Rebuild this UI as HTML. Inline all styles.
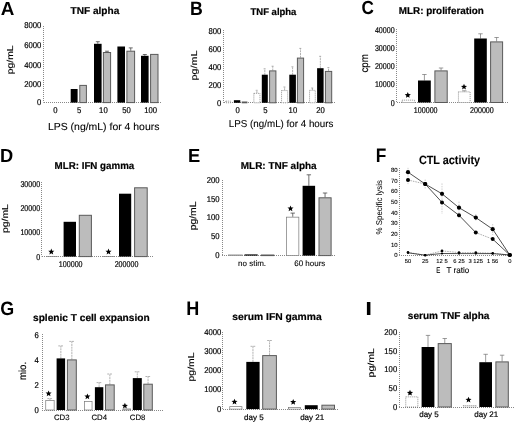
<!DOCTYPE html>
<html><head><meta charset="utf-8"><style>
html,body{margin:0;padding:0;background:#fff;}
svg{display:block;will-change:transform;}
text{font-family:"Liberation Sans", sans-serif;text-rendering:geometricPrecision;}
.ax{stroke:#888;stroke-width:1;stroke-dasharray:1 1;fill:none;}
.eb{stroke:#333;stroke-width:0.7;fill:none;}
.eb2{stroke:#999;stroke-width:0.75;fill:none;stroke-dasharray:2 0.7;}
.eb4{stroke:#bbb;stroke-width:0.7;fill:none;stroke-dasharray:1.5 1;}
.eb3{stroke:#707070;stroke-width:0.7;fill:none;}
.bk{fill:#000;}
.bg{fill:#bcbcbc;stroke:#5a5a5a;stroke-width:1;}
.bw{fill:#fff;stroke:#777;stroke-width:0.7;}
.bwd{fill:#fff;stroke:#666;stroke-width:0.7;stroke-dasharray:1 1;}
.ln{stroke:#222;stroke-width:0.8;fill:none;}
.ln2{stroke:#777;stroke-width:0.7;fill:none;}
.lnd{stroke:#888;stroke-width:0.7;fill:none;stroke-dasharray:1.5 1;}
</style></head><body>
<svg width="520" height="423" viewBox="0 0 520 423">
<text transform="translate(0.83,14.50) scale(0.998,1)" font-size="18.90" font-weight="bold">A</text>
<text x="70.54" y="14.40" font-size="10" font-weight="bold" textLength="48.75" lengthAdjust="spacingAndGlyphs" fill="#000" stroke="#000" stroke-width="0.2">TNF alpha</text>
<line x1="43.5" y1="26" x2="43.5" y2="102.6" class="ax"/>
<line x1="44" y1="102.5" x2="161" y2="102.5" class="ax"/>
<text transform="translate(41.30,28.24) scale(0.92,1)" font-size="8.4" text-anchor="end" stroke="#000" stroke-width="0.2">8000</text>
<text transform="translate(41.30,47.94) scale(0.92,1)" font-size="8.4" text-anchor="end" stroke="#000" stroke-width="0.2">6000</text>
<text transform="translate(41.30,67.54) scale(0.92,1)" font-size="8.4" text-anchor="end" stroke="#000" stroke-width="0.2">4000</text>
<text transform="translate(41.30,86.54) scale(0.92,1)" font-size="8.4" text-anchor="end" stroke="#000" stroke-width="0.2">2000</text>
<text transform="translate(41.30,105.34) scale(0.92,1)" font-size="8.4" text-anchor="end" stroke="#000" stroke-width="0.2">0</text>
<text transform="translate(13.43,74.22) rotate(-90) scale(0.956,0.8)" font-size="10.8" stroke="#000" stroke-width="0.18">pg/mL</text>
<rect x="70.70" y="89.00" width="6.90" height="13.60" class="bk"/>
<rect x="79.80" y="85.40" width="6.60" height="17.20" class="bg"/>
<line x1="97.80" y1="43.80" x2="97.80" y2="41.70" class="eb"/>
<line x1="95.80" y1="41.70" x2="99.80" y2="41.70" class="eb"/>
<rect x="94.00" y="43.80" width="7.60" height="58.80" class="bk"/>
<line x1="107.00" y1="52.10" x2="107.00" y2="51.20" class="eb"/>
<line x1="105.00" y1="51.20" x2="109.00" y2="51.20" class="eb"/>
<rect x="103.40" y="52.50" width="7.20" height="50.10" class="bg"/>
<rect x="117.40" y="46.50" width="7.60" height="56.10" class="bk"/>
<line x1="130.75" y1="50.80" x2="130.75" y2="47.90" class="eb"/>
<line x1="128.75" y1="47.90" x2="132.75" y2="47.90" class="eb"/>
<rect x="126.90" y="51.20" width="7.70" height="51.40" class="bg"/>
<line x1="144.80" y1="55.80" x2="144.80" y2="54.50" class="eb"/>
<line x1="142.80" y1="54.50" x2="146.80" y2="54.50" class="eb"/>
<rect x="141.00" y="55.80" width="7.60" height="46.80" class="bk"/>
<rect x="150.60" y="54.40" width="7.40" height="48.20" class="bg"/>
<text transform="translate(55.35,113.49) scale(0.92,1)" font-size="8.4" text-anchor="middle" stroke="#000" stroke-width="0.2">0</text>
<text transform="translate(79.25,113.49) scale(0.92,1)" font-size="8.4" text-anchor="middle" stroke="#000" stroke-width="0.2">5</text>
<text transform="translate(103.40,113.49) scale(0.92,1)" font-size="8.4" text-anchor="middle" stroke="#000" stroke-width="0.2">10</text>
<text transform="translate(126.60,113.49) scale(0.92,1)" font-size="8.4" text-anchor="middle" stroke="#000" stroke-width="0.2">50</text>
<text transform="translate(150.60,113.49) scale(0.92,1)" font-size="8.4" text-anchor="middle" stroke="#000" stroke-width="0.2">100</text>
<text x="47.99" y="129.90" font-size="10.2" textLength="111.43" lengthAdjust="spacingAndGlyphs" fill="#000" stroke="#000" stroke-width="0.1">LPS (ng/mL) for 4 hours</text>
<text transform="translate(189.92,14.55) scale(0.916,1)" font-size="19.33" font-weight="bold">B</text>
<text x="250.54" y="15.20" font-size="9.8" font-weight="bold" textLength="45.85" lengthAdjust="spacingAndGlyphs" fill="#000" stroke="#000" stroke-width="0.2">TNF alpha</text>
<line x1="223.5" y1="30" x2="223.5" y2="102.8" class="ax"/>
<line x1="224" y1="102.5" x2="335" y2="102.5" class="ax"/>
<text transform="translate(221.40,33.84) scale(0.92,1)" font-size="8.4" text-anchor="end" stroke="#000" stroke-width="0.2">800</text>
<text transform="translate(221.40,51.84) scale(0.92,1)" font-size="8.4" text-anchor="end" stroke="#000" stroke-width="0.2">600</text>
<text transform="translate(221.40,69.74) scale(0.92,1)" font-size="8.4" text-anchor="end" stroke="#000" stroke-width="0.2">400</text>
<text transform="translate(221.40,87.74) scale(0.92,1)" font-size="8.4" text-anchor="end" stroke="#000" stroke-width="0.2">200</text>
<text transform="translate(221.40,105.84) scale(0.92,1)" font-size="8.4" text-anchor="end" stroke="#000" stroke-width="0.2">0</text>
<text transform="translate(197.23,80.44) rotate(-90) scale(0.998,0.8)" font-size="10.8" stroke="#000" stroke-width="0.18">pg/mL</text>
<rect x="225.85" y="101.15" width="4.80" height="1.65" class="bwd"/>
<rect x="233.90" y="100.20" width="6.40" height="2.60" class="bk"/>
<rect x="242.20" y="102.00" width="4.70" height="0.80" class="bg"/>
<line x1="256.90" y1="93.00" x2="256.90" y2="90.30" class="eb2"/>
<line x1="255.70" y1="90.30" x2="258.10" y2="90.30" class="eb2"/>
<rect x="253.85" y="93.35" width="6.10" height="9.45" class="bwd"/>
<line x1="264.80" y1="74.70" x2="264.80" y2="68.80" class="eb2"/>
<line x1="263.60" y1="68.80" x2="266.00" y2="68.80" class="eb2"/>
<rect x="261.80" y="74.70" width="6.00" height="28.10" class="bk"/>
<line x1="272.75" y1="70.50" x2="272.75" y2="66.20" class="eb2"/>
<line x1="271.55" y1="66.20" x2="273.95" y2="66.20" class="eb2"/>
<rect x="269.60" y="70.90" width="6.30" height="31.90" class="bg"/>
<line x1="284.60" y1="90.20" x2="284.60" y2="87.00" class="eb2"/>
<line x1="283.40" y1="87.00" x2="285.80" y2="87.00" class="eb2"/>
<rect x="281.55" y="90.55" width="6.10" height="12.25" class="bwd"/>
<line x1="292.60" y1="74.70" x2="292.60" y2="66.80" class="eb2"/>
<line x1="291.40" y1="66.80" x2="293.80" y2="66.80" class="eb2"/>
<rect x="289.30" y="74.70" width="6.60" height="28.10" class="bk"/>
<line x1="300.50" y1="57.70" x2="300.50" y2="48.40" class="eb2"/>
<line x1="299.30" y1="48.40" x2="301.70" y2="48.40" class="eb2"/>
<rect x="297.40" y="58.10" width="6.20" height="44.70" class="bg"/>
<line x1="312.40" y1="90.00" x2="312.40" y2="88.00" class="eb2"/>
<line x1="311.20" y1="88.00" x2="313.60" y2="88.00" class="eb2"/>
<rect x="309.55" y="90.35" width="5.70" height="12.45" class="bwd"/>
<line x1="320.35" y1="68.20" x2="320.35" y2="56.30" class="eb2"/>
<line x1="319.15" y1="56.30" x2="321.55" y2="56.30" class="eb2"/>
<rect x="317.10" y="68.20" width="6.50" height="34.60" class="bk"/>
<line x1="328.55" y1="71.00" x2="328.55" y2="67.60" class="eb2"/>
<line x1="327.35" y1="67.60" x2="329.75" y2="67.60" class="eb2"/>
<rect x="325.40" y="71.40" width="6.30" height="31.40" class="bg"/>
<text transform="translate(237.60,113.24) scale(0.92,1)" font-size="8.4" text-anchor="middle" stroke="#000" stroke-width="0.2">0</text>
<text transform="translate(265.30,113.24) scale(0.92,1)" font-size="8.4" text-anchor="middle" stroke="#000" stroke-width="0.2">5</text>
<text transform="translate(292.90,113.24) scale(0.92,1)" font-size="8.4" text-anchor="middle" stroke="#000" stroke-width="0.2">10</text>
<text transform="translate(320.50,113.24) scale(0.92,1)" font-size="8.4" text-anchor="middle" stroke="#000" stroke-width="0.2">20</text>
<text x="228.85" y="127.00" font-size="10" textLength="104.56" lengthAdjust="spacingAndGlyphs" fill="#000" stroke="#000" stroke-width="0.1">LPS (ng/mL) for 4 hours</text>
<text transform="translate(361.49,14.45) scale(0.903,1)" font-size="19.05" font-weight="bold">C</text>
<text x="398.79" y="13.90" font-size="10" font-weight="bold" textLength="85.07" lengthAdjust="spacingAndGlyphs" fill="#000" stroke="#000" stroke-width="0.2">MLR: proliferation</text>
<line x1="396.5" y1="29" x2="396.5" y2="102.5" class="ax"/>
<line x1="397" y1="102.5" x2="509" y2="102.5" class="ax"/>
<text transform="translate(394.70,32.64) scale(0.85,1)" font-size="8.4" text-anchor="end" stroke="#000" stroke-width="0.2">40000</text>
<text transform="translate(394.70,50.94) scale(0.85,1)" font-size="8.4" text-anchor="end" stroke="#000" stroke-width="0.2">30000</text>
<text transform="translate(394.70,68.84) scale(0.85,1)" font-size="8.4" text-anchor="end" stroke="#000" stroke-width="0.2">20000</text>
<text transform="translate(394.70,86.94) scale(0.85,1)" font-size="8.4" text-anchor="end" stroke="#000" stroke-width="0.2">10000</text>
<text transform="translate(394.70,105.94) scale(0.85,1)" font-size="8.4" text-anchor="end" stroke="#000" stroke-width="0.2">0</text>
<text transform="translate(367.74,72.57) rotate(-90) scale(0.931,1.0)" font-size="10.5" stroke="#000" stroke-width="0.18">cpm</text>
<rect x="402.15" y="100.15" width="12.40" height="2.35" class="bwd"/>
<polygon points="407.80,92.00 408.65,94.04 410.84,94.21 409.17,95.64 409.68,97.79 407.80,96.64 405.92,97.79 406.43,95.64 404.76,94.21 406.95,94.04" fill="#000"/>
<line x1="424.40" y1="80.50" x2="424.40" y2="74.50" class="eb3"/>
<line x1="422.20" y1="74.50" x2="426.60" y2="74.50" class="eb3"/>
<rect x="418.00" y="80.50" width="12.80" height="22.00" class="bk"/>
<line x1="441.05" y1="70.50" x2="441.05" y2="68.00" class="eb3"/>
<line x1="438.85" y1="68.00" x2="443.25" y2="68.00" class="eb3"/>
<rect x="434.90" y="70.90" width="12.30" height="31.60" class="bg"/>
<line x1="464.30" y1="91.50" x2="464.30" y2="90.80" class="eb3"/>
<line x1="462.10" y1="90.80" x2="466.50" y2="90.80" class="eb3"/>
<rect x="458.45" y="91.85" width="11.70" height="10.65" class="bwd"/>
<polygon points="464.00,83.70 464.85,85.74 467.04,85.91 465.37,87.34 465.88,89.49 464.00,88.34 462.12,89.49 462.63,87.34 460.96,85.91 463.15,85.74" fill="#000"/>
<line x1="480.50" y1="38.50" x2="480.50" y2="33.80" class="eb3"/>
<line x1="478.30" y1="33.80" x2="482.70" y2="33.80" class="eb3"/>
<rect x="474.20" y="38.50" width="12.60" height="64.00" class="bk"/>
<line x1="496.60" y1="41.50" x2="496.60" y2="37.50" class="eb3"/>
<line x1="494.40" y1="37.50" x2="498.80" y2="37.50" class="eb3"/>
<rect x="490.60" y="41.90" width="12.00" height="60.60" class="bg"/>
<text transform="translate(425.70,113.14) scale(0.85,1)" font-size="8.4" text-anchor="middle" stroke="#000" stroke-width="0.2">100000</text>
<text transform="translate(481.90,113.14) scale(0.85,1)" font-size="8.4" text-anchor="middle" stroke="#000" stroke-width="0.2">200000</text>
<text transform="translate(-0.02,162.15) scale(0.959,1)" font-size="19.04" font-weight="bold">D</text>
<text x="54.60" y="169.20" font-size="10" font-weight="bold" textLength="79.69" lengthAdjust="spacingAndGlyphs" fill="#000" stroke="#000" stroke-width="0.2">MLR: IFN gamma</text>
<line x1="41.5" y1="182" x2="41.5" y2="256.4" class="ax"/>
<line x1="42" y1="256.5" x2="153" y2="256.5" class="ax"/>
<text transform="translate(40.20,186.54) scale(0.85,1)" font-size="8.4" text-anchor="end" stroke="#000" stroke-width="0.2">30000</text>
<text transform="translate(40.20,210.84) scale(0.85,1)" font-size="8.4" text-anchor="end" stroke="#000" stroke-width="0.2">20000</text>
<text transform="translate(40.20,235.14) scale(0.85,1)" font-size="8.4" text-anchor="end" stroke="#000" stroke-width="0.2">10000</text>
<text transform="translate(40.20,259.64) scale(0.85,1)" font-size="8.4" text-anchor="end" stroke="#000" stroke-width="0.2">0</text>
<text transform="translate(8.03,233.02) rotate(-90) scale(0.963,0.8)" font-size="10.8" stroke="#000" stroke-width="0.18">pg/mL</text>
<rect x="46.35" y="256.35" width="11.30" height="0.25" class="bw"/>
<polygon points="51.30,248.60 52.15,250.64 54.34,250.81 52.67,252.24 53.18,254.39 51.30,253.24 49.42,254.39 49.93,252.24 48.26,250.81 50.45,250.64" fill="#000"/>
<rect x="63.60" y="221.80" width="12.40" height="34.80" class="bk"/>
<rect x="79.30" y="215.30" width="12.10" height="41.30" class="bg"/>
<rect x="103.35" y="256.35" width="11.00" height="0.25" class="bw"/>
<polygon points="108.50,248.60 109.35,250.64 111.54,250.81 109.87,252.24 110.38,254.39 108.50,253.24 106.62,254.39 107.13,252.24 105.46,250.81 107.65,250.64" fill="#000"/>
<rect x="119.00" y="193.70" width="12.20" height="62.90" class="bk"/>
<rect x="134.60" y="187.80" width="12.60" height="68.80" class="bg"/>
<text transform="translate(70.70,266.94) scale(0.85,1)" font-size="8.4" text-anchor="middle" stroke="#000" stroke-width="0.2">100000</text>
<text transform="translate(126.50,266.94) scale(0.85,1)" font-size="8.4" text-anchor="middle" stroke="#000" stroke-width="0.2">200000</text>
<text transform="translate(187.97,161.55) scale(0.964,1)" font-size="19.04" font-weight="bold">E</text>
<text x="240.78" y="168.50" font-size="10" font-weight="bold" textLength="75.90" lengthAdjust="spacingAndGlyphs" fill="#000" stroke="#000" stroke-width="0.2">MLR: TNF alpha</text>
<line x1="222.5" y1="180" x2="222.5" y2="255.3" class="ax"/>
<line x1="222" y1="255.5" x2="336" y2="255.5" class="ax"/>
<text transform="translate(219.60,183.04) scale(0.92,1)" font-size="8.4" text-anchor="end" stroke="#000" stroke-width="0.2">200</text>
<text transform="translate(219.60,201.94) scale(0.92,1)" font-size="8.4" text-anchor="end" stroke="#000" stroke-width="0.2">150</text>
<text transform="translate(219.60,220.24) scale(0.92,1)" font-size="8.4" text-anchor="end" stroke="#000" stroke-width="0.2">100</text>
<text transform="translate(219.60,239.24) scale(0.92,1)" font-size="8.4" text-anchor="end" stroke="#000" stroke-width="0.2">50</text>
<text transform="translate(219.60,258.24) scale(0.92,1)" font-size="8.4" text-anchor="end" stroke="#000" stroke-width="0.2">0</text>
<text transform="translate(196.37,230.32) rotate(-90) scale(1.016,0.9)" font-size="10.2" stroke="#000" stroke-width="0.18">pg/mL</text>
<rect x="228.35" y="254.95" width="14.10" height="0.65" class="bw"/>
<rect x="244.50" y="254.40" width="13.20" height="1.20" class="bk"/>
<rect x="261.40" y="255.00" width="12.40" height="0.60" class="bg"/>
<line x1="292.75" y1="216.80" x2="292.75" y2="213.10" class="eb"/>
<line x1="290.55" y1="213.10" x2="294.95" y2="213.10" class="eb"/>
<rect x="286.65" y="217.15" width="12.20" height="38.45" class="bw"/>
<polygon points="290.50,205.40 291.35,207.44 293.54,207.61 291.87,209.04 292.38,211.19 290.50,210.04 288.62,211.19 289.13,209.04 287.46,207.61 289.65,207.44" fill="#000"/>
<line x1="308.85" y1="185.80" x2="308.85" y2="174.80" class="eb"/>
<line x1="306.65" y1="174.80" x2="311.05" y2="174.80" class="eb"/>
<rect x="302.60" y="185.80" width="12.50" height="69.80" class="bk"/>
<line x1="325.05" y1="197.40" x2="325.05" y2="193.00" class="eb"/>
<line x1="322.85" y1="193.00" x2="327.25" y2="193.00" class="eb"/>
<rect x="319.00" y="197.80" width="12.10" height="57.80" class="bg"/>
<text x="252.10" y="266.20" font-size="8" text-anchor="middle" stroke="#000" stroke-width="0.1">no stim.</text>
<text x="309.80" y="266.20" font-size="8" text-anchor="middle" stroke="#000" stroke-width="0.1">60 hours</text>
<text transform="translate(375.74,162.45) scale(0.891,1)" font-size="19.48" font-weight="bold">F</text>
<text x="418.91" y="163.80" font-size="12" font-weight="bold" textLength="61.20" lengthAdjust="spacingAndGlyphs" fill="#000" stroke="#000" stroke-width="0.1">CTL activity</text>
<line x1="399.5" y1="168" x2="399.5" y2="255.2" class="ax"/>
<line x1="399" y1="255.5" x2="513" y2="255.5" class="ax"/>
<text x="397.60" y="257.40" font-size="6.0" text-anchor="end" stroke="#000" stroke-width="0.1">0</text>
<text x="397.60" y="246.74" font-size="6.0" text-anchor="end" stroke="#000" stroke-width="0.1">10</text>
<text x="397.60" y="236.08" font-size="6.0" text-anchor="end" stroke="#000" stroke-width="0.1">20</text>
<text x="397.60" y="225.41" font-size="6.0" text-anchor="end" stroke="#000" stroke-width="0.1">30</text>
<text x="397.60" y="214.75" font-size="6.0" text-anchor="end" stroke="#000" stroke-width="0.1">40</text>
<text x="397.60" y="204.09" font-size="6.0" text-anchor="end" stroke="#000" stroke-width="0.1">50</text>
<text x="397.60" y="193.42" font-size="6.0" text-anchor="end" stroke="#000" stroke-width="0.1">60</text>
<text x="397.60" y="182.76" font-size="6.0" text-anchor="end" stroke="#000" stroke-width="0.1">70</text>
<text x="397.60" y="172.10" font-size="6.0" text-anchor="end" stroke="#000" stroke-width="0.1">80</text>
<text transform="translate(382.46,234.43) rotate(-90) scale(0.897,0.95)" font-size="8.8" stroke="#000" stroke-width="0.05">% Specific lysis</text>
<line x1="408.0" y1="167.8" x2="408.0" y2="184.1" class="eb4"/>
<line x1="425.2" y1="179.5" x2="425.2" y2="189" class="eb4"/>
<line x1="442" y1="183.4" x2="442" y2="213.9" class="eb4"/>
<line x1="459.0" y1="201.6" x2="459.0" y2="219" class="eb4"/>
<line x1="492.7" y1="224" x2="492.7" y2="235" class="eb4"/>
<line x1="475.8" y1="214" x2="475.8" y2="221" class="eb4"/>
<polyline points="408.0,172.2 425.2,184.0 442,193.8 459.0,207.7 475.8,217.6 492.7,229.2 509.8,255" class="ln"/>
<line x1="408.0" y1="180.0" x2="425.2" y2="184.0" class="lnd"/>
<polyline points="425.2,184.0 442,202.4 459.0,215.3 475.8,232.6" class="ln"/>
<line x1="475.8" y1="232.6" x2="492.7" y2="239.1" class="lnd"/>
<line x1="492.7" y1="239.1" x2="509.8" y2="255" class="ln"/>
<polyline points="408.0,252.4 425.2,255.2 442,250.9 459.0,252.6 475.8,252.6 492.7,253.2 509.8,255" class="lnd"/>
<polyline points="408.0,252.8 425.2,255.2 442,253.5 459.0,253.6 475.8,253.6 492.7,253.6 509.8,255" class="ln"/>
<circle cx="408.0" cy="172.2" r="2.1"/>
<circle cx="425.2" cy="184.0" r="2.1"/>
<circle cx="442" cy="193.8" r="2.1"/>
<circle cx="459.0" cy="207.7" r="2.1"/>
<circle cx="475.8" cy="217.6" r="2.1"/>
<circle cx="492.7" cy="229.2" r="2.1"/>
<circle cx="509.8" cy="255" r="2.1"/>
<circle cx="408.0" cy="180.0" r="2.0"/>
<circle cx="425.2" cy="184.0" r="2.0"/>
<circle cx="442" cy="202.4" r="2.0"/>
<circle cx="459.0" cy="215.3" r="2.0"/>
<circle cx="475.8" cy="232.6" r="2.0"/>
<circle cx="492.7" cy="239.1" r="2.0"/>
<circle cx="509.8" cy="255" r="2.0"/>
<circle cx="408.0" cy="252.4" r="1.3"/>
<circle cx="425.2" cy="255.2" r="1.3"/>
<circle cx="442" cy="250.9" r="1.3"/>
<circle cx="459.0" cy="252.6" r="1.3"/>
<circle cx="475.8" cy="252.6" r="1.3"/>
<circle cx="492.7" cy="253.2" r="1.3"/>
<circle cx="509.8" cy="255" r="1.3"/>
<circle cx="408.0" cy="252.8" r="1.1"/>
<circle cx="425.2" cy="255.2" r="1.1"/>
<circle cx="442" cy="253.5" r="1.1"/>
<circle cx="459.0" cy="253.6" r="1.1"/>
<circle cx="475.8" cy="253.6" r="1.1"/>
<circle cx="492.7" cy="253.6" r="1.1"/>
<circle cx="509.8" cy="255" r="1.1"/>
<text x="408.00" y="262.83" font-size="5.8" text-anchor="middle" stroke="#000" stroke-width="0.1">50</text>
<text x="425.20" y="262.83" font-size="5.8" text-anchor="middle" stroke="#000" stroke-width="0.1">25</text>
<text x="442.00" y="262.83" font-size="5.8" text-anchor="middle" stroke="#000" stroke-width="0.1">12 5</text>
<text x="459.00" y="262.83" font-size="5.8" text-anchor="middle" stroke="#000" stroke-width="0.1">6 25</text>
<text x="475.80" y="262.83" font-size="5.8" text-anchor="middle" stroke="#000" stroke-width="0.1">3 125</text>
<text x="492.70" y="262.83" font-size="5.8" text-anchor="middle" stroke="#000" stroke-width="0.1">1 56</text>
<text x="509.80" y="262.83" font-size="5.8" text-anchor="middle" stroke="#000" stroke-width="0.1">0</text>
<text x="436.35" y="272.90" font-size="8.4" textLength="4.06" lengthAdjust="spacingAndGlyphs" fill="#000" stroke="#000" stroke-width="0.1">E</text>
<text x="446.57" y="272.90" font-size="8.4" textLength="22.72" lengthAdjust="spacingAndGlyphs" fill="#000" stroke="#000" stroke-width="0.1">T ratio</text>
<text transform="translate(0.16,315.45) scale(0.934,1)" font-size="19.19" font-weight="bold">G</text>
<text x="32.99" y="321.20" font-size="10" font-weight="bold" textLength="116.69" lengthAdjust="spacingAndGlyphs" fill="#000" stroke="#000" stroke-width="0.2">splenic T cell expansion</text>
<line x1="42.5" y1="334" x2="42.5" y2="410" class="ax"/>
<line x1="42" y1="410.5" x2="164" y2="410.5" class="ax"/>
<text transform="translate(38.90,337.84) scale(0.92,1)" font-size="8.4" text-anchor="end" stroke="#000" stroke-width="0.2">6</text>
<text transform="translate(38.90,363.24) scale(0.92,1)" font-size="8.4" text-anchor="end" stroke="#000" stroke-width="0.2">4</text>
<text transform="translate(38.90,388.24) scale(0.92,1)" font-size="8.4" text-anchor="end" stroke="#000" stroke-width="0.2">2</text>
<text transform="translate(38.90,412.84) scale(0.92,1)" font-size="8.4" text-anchor="end" stroke="#000" stroke-width="0.2">0</text>
<text transform="translate(25.75,379.99) rotate(-90) scale(0.940,1.0)" font-size="10.2" stroke="#000" stroke-width="0.18">mio.</text>
<line x1="49.95" y1="400.20" x2="49.95" y2="398.60" class="eb2"/>
<line x1="47.35" y1="398.60" x2="52.55" y2="398.60" class="eb2"/>
<rect x="45.75" y="400.55" width="8.40" height="9.45" class="bw"/>
<polygon points="48.60,390.40 49.45,392.44 51.64,392.61 49.97,394.04 50.48,396.19 48.60,395.04 46.72,396.19 47.23,394.04 45.56,392.61 47.75,392.44" fill="#000"/>
<line x1="60.85" y1="358.40" x2="60.85" y2="345.90" class="eb2"/>
<line x1="58.30" y1="345.90" x2="63.40" y2="345.90" class="eb2"/>
<rect x="56.60" y="358.40" width="8.50" height="51.60" class="bk"/>
<line x1="71.85" y1="359.50" x2="71.85" y2="341.40" class="eb2"/>
<line x1="69.25" y1="341.40" x2="74.45" y2="341.40" class="eb2"/>
<rect x="67.40" y="359.90" width="8.90" height="50.10" class="bg"/>
<rect x="84.35" y="401.45" width="7.70" height="8.55" class="bw"/>
<polygon points="87.40,393.40 88.25,395.44 90.44,395.61 88.77,397.04 89.28,399.19 87.40,398.04 85.52,399.19 86.03,397.04 84.36,395.61 86.55,395.44" fill="#000"/>
<line x1="99.10" y1="387.20" x2="99.10" y2="382.60" class="eb2"/>
<line x1="96.58" y1="382.60" x2="101.62" y2="382.60" class="eb2"/>
<rect x="94.90" y="387.20" width="8.40" height="22.80" class="bk"/>
<line x1="109.85" y1="384.50" x2="109.85" y2="374.00" class="eb2"/>
<line x1="107.25" y1="374.00" x2="112.45" y2="374.00" class="eb2"/>
<rect x="105.50" y="384.90" width="8.70" height="25.10" class="bg"/>
<rect x="122.85" y="408.95" width="7.80" height="1.05" class="bw"/>
<polygon points="124.90,402.70 125.75,404.74 127.94,404.91 126.27,406.34 126.78,408.49 124.90,407.34 123.02,408.49 123.53,406.34 121.86,404.91 124.05,404.74" fill="#000"/>
<line x1="137.30" y1="378.10" x2="137.30" y2="371.80" class="eb2"/>
<line x1="134.70" y1="371.80" x2="139.90" y2="371.80" class="eb2"/>
<rect x="132.80" y="378.10" width="9.00" height="31.90" class="bk"/>
<line x1="148.05" y1="383.80" x2="148.05" y2="376.50" class="eb2"/>
<line x1="145.45" y1="376.50" x2="150.65" y2="376.50" class="eb2"/>
<rect x="143.80" y="384.20" width="8.50" height="25.80" class="bg"/>
<text x="61.70" y="420.33" font-size="7.8" text-anchor="middle" stroke="#000" stroke-width="0.12">CD3</text>
<text x="99.25" y="420.33" font-size="7.8" text-anchor="middle" stroke="#000" stroke-width="0.12">CD4</text>
<text x="137.60" y="420.33" font-size="7.8" text-anchor="middle" stroke="#000" stroke-width="0.12">CD8</text>
<text transform="translate(186.19,315.45) scale(0.926,1)" font-size="19.48" font-weight="bold">H</text>
<text x="232.29" y="320.00" font-size="10" font-weight="bold" textLength="89.40" lengthAdjust="spacingAndGlyphs" fill="#000" stroke="#000" stroke-width="0.2">serum IFN gamma</text>
<line x1="222.5" y1="332" x2="222.5" y2="409.1" class="ax"/>
<line x1="223" y1="409.5" x2="338" y2="409.5" class="ax"/>
<text transform="translate(221.30,334.94) scale(0.92,1)" font-size="8.4" text-anchor="end" stroke="#000" stroke-width="0.2">4000</text>
<text transform="translate(221.30,353.94) scale(0.92,1)" font-size="8.4" text-anchor="end" stroke="#000" stroke-width="0.2">3000</text>
<text transform="translate(221.30,373.14) scale(0.92,1)" font-size="8.4" text-anchor="end" stroke="#000" stroke-width="0.2">2000</text>
<text transform="translate(221.30,391.94) scale(0.92,1)" font-size="8.4" text-anchor="end" stroke="#000" stroke-width="0.2">1000</text>
<text transform="translate(221.30,412.14) scale(0.92,1)" font-size="8.4" text-anchor="end" stroke="#000" stroke-width="0.2">0</text>
<text transform="translate(194.23,381.42) rotate(-90) scale(0.963,0.8)" font-size="10.8" stroke="#000" stroke-width="0.18">pg/mL</text>
<rect x="229.75" y="406.65" width="12.20" height="2.45" class="bw"/>
<polygon points="234.50,398.70 235.35,400.74 237.54,400.91 235.87,402.34 236.38,404.49 234.50,403.34 232.62,404.49 233.13,402.34 231.46,400.91 233.65,400.74" fill="#000"/>
<line x1="252.95" y1="361.90" x2="252.95" y2="346.30" class="eb2"/>
<line x1="250.55" y1="346.30" x2="255.35" y2="346.30" class="eb2"/>
<rect x="246.30" y="361.90" width="13.30" height="47.20" class="bk"/>
<line x1="269.55" y1="355.20" x2="269.55" y2="340.50" class="eb2"/>
<line x1="267.15" y1="340.50" x2="271.95" y2="340.50" class="eb2"/>
<rect x="262.70" y="355.60" width="13.70" height="53.50" class="bg"/>
<rect x="288.65" y="407.35" width="12.00" height="1.75" class="bw"/>
<polygon points="293.20,398.90 294.05,400.94 296.24,401.11 294.57,402.54 295.08,404.69 293.20,403.54 291.32,404.69 291.83,402.54 290.16,401.11 292.35,400.94" fill="#000"/>
<rect x="304.80" y="405.20" width="12.90" height="3.90" class="bk"/>
<rect x="321.90" y="405.20" width="12.60" height="3.90" class="bg"/>
<text x="253.85" y="419.60" font-size="8" text-anchor="middle" stroke="#000" stroke-width="0.2">day 5</text>
<text x="312.20" y="419.60" font-size="8" text-anchor="middle" stroke="#000" stroke-width="0.2">day 21</text>
<text transform="translate(365.24,315.35) scale(1.300,1)" font-size="18.90" font-weight="bold">I</text>
<text x="407.80" y="319.40" font-size="10" font-weight="bold" textLength="81.69" lengthAdjust="spacingAndGlyphs" fill="#000" stroke="#000" stroke-width="0.2">serum TNF alpha</text>
<line x1="399.5" y1="332" x2="399.5" y2="407" class="ax"/>
<line x1="399" y1="407.5" x2="514" y2="407.5" class="ax"/>
<text transform="translate(397.20,335.24) scale(0.92,1)" font-size="8.4" text-anchor="end" stroke="#000" stroke-width="0.2">200</text>
<text transform="translate(397.20,353.94) scale(0.92,1)" font-size="8.4" text-anchor="end" stroke="#000" stroke-width="0.2">150</text>
<text transform="translate(397.20,372.34) scale(0.92,1)" font-size="8.4" text-anchor="end" stroke="#000" stroke-width="0.2">100</text>
<text transform="translate(397.20,391.04) scale(0.92,1)" font-size="8.4" text-anchor="end" stroke="#000" stroke-width="0.2">50</text>
<text transform="translate(397.20,409.84) scale(0.92,1)" font-size="8.4" text-anchor="end" stroke="#000" stroke-width="0.2">0</text>
<text transform="translate(374.23,377.43) rotate(-90) scale(0.977,0.8)" font-size="10.8" stroke="#000" stroke-width="0.18">pg/mL</text>
<rect x="405.75" y="396.85" width="12.10" height="10.15" class="bwd"/>
<polygon points="410.00,389.80 410.85,391.84 413.04,392.01 411.37,393.44 411.88,395.59 410.00,394.44 408.12,395.59 408.63,393.44 406.96,392.01 409.15,391.84" fill="#000"/>
<line x1="428.00" y1="347.00" x2="428.00" y2="335.40" class="eb3"/>
<line x1="425.80" y1="335.40" x2="430.20" y2="335.40" class="eb3"/>
<rect x="421.60" y="347.00" width="12.80" height="60.00" class="bk"/>
<line x1="444.75" y1="343.20" x2="444.75" y2="338.50" class="eb3"/>
<line x1="442.55" y1="338.50" x2="446.95" y2="338.50" class="eb3"/>
<rect x="438.20" y="343.60" width="13.10" height="63.40" class="bg"/>
<rect x="463.35" y="405.55" width="12.80" height="1.45" class="bwd"/>
<polygon points="468.50,396.70 469.35,398.74 471.54,398.91 469.87,400.34 470.38,402.49 468.50,401.34 466.62,402.49 467.13,400.34 465.46,398.91 467.65,398.74" fill="#000"/>
<line x1="485.65" y1="362.20" x2="485.65" y2="354.30" class="eb3"/>
<line x1="483.45" y1="354.30" x2="487.85" y2="354.30" class="eb3"/>
<rect x="479.30" y="362.20" width="12.70" height="44.80" class="bk"/>
<line x1="502.10" y1="361.50" x2="502.10" y2="355.20" class="eb3"/>
<line x1="499.90" y1="355.20" x2="504.30" y2="355.20" class="eb3"/>
<rect x="495.90" y="361.90" width="12.40" height="45.10" class="bg"/>
<text x="429.00" y="417.00" font-size="8" text-anchor="middle" stroke="#000" stroke-width="0.2">day 5</text>
<text x="486.25" y="417.00" font-size="8" text-anchor="middle" stroke="#000" stroke-width="0.2">day 21</text>
</svg>
</body></html>
